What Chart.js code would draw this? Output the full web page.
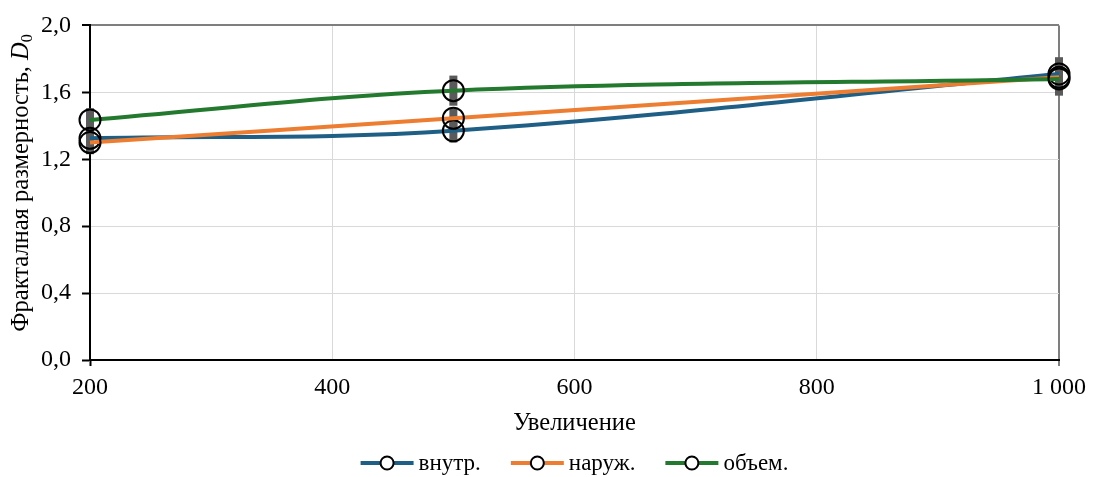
<!DOCTYPE html>
<html lang="ru">
<head>
<meta charset="UTF-8">
<title>Фракталная размерность</title>
<script src="https://cdn.jsdelivr.net/npm/chart.js"></script>
<style>
  html, body { margin: 0; padding: 0; background: #fff; }
  #wrap { width: 1093px; height: 477px; }
</style>
</head>
<body>
<div id="wrap"><canvas id="chart" width="1093" height="477"></canvas></div>
<script>
  // values
  const magnification = [200, 500, 1000];
  const seriesNames = ['внутр.', 'наруж.', 'объем.'];
  const innerD0 = [1.325, 1.37, 1.71];
  const outerD0 = [1.30, 1.445, 1.69];
  const volumeD0 = [1.435, 1.61, 1.68];
  const innerErr = [0.08, 0.07, 0.10];
  const outerErr = [0.07, 0.06, 0.09];
  const volumeErr = [0.07, 0.09, 0.10];
  const xTickValues = [200, 400, 600, 800, 1000];
  const xTickLabels = ['200', '400', '600', '800', '1 000'];
  const yTickLabels = ['0,0', '0,4', '0,8', '1,2', '1,6', '2,0'];

  const FONT = '"Liberation Serif", "Times New Roman", serif';
  const TICK_SIZE = 24;
  const TITLE_SIZE = 24.5;
  const LEGEND_SIZE = 23;

  function series(label, ys, errs, color, order) {
    return {
      label: label,
      data: magnification.map((x, i) => ({ x: x, y: ys[i] })),
      errors: errs,
      borderColor: color,
      borderWidth: 4,
      tension: 0.35,
      fill: false,
      clip: false,
      order: order,
      pointRadius: 10.5,
      pointBorderColor: '#000',
      pointBorderWidth: 2,
      pointBackgroundColor: 'rgba(0,0,0,0)'
    };
  }

  // grey error bars, under the lines
  const errorBars = {
    id: 'errorBars',
    beforeDatasetsDraw(chart) {
      const { ctx, scales: { x, y } } = chart;
      ctx.save();
      ctx.strokeStyle = '#5a5a5a';
      ctx.lineWidth = 8;
      chart.data.datasets.forEach(ds => {
        ds.data.forEach((p, i) => {
          const e = ds.errors[i];
          const px = x.getPixelForValue(p.x);
          ctx.beginPath();
          ctx.moveTo(px, y.getPixelForValue(p.y + e));
          ctx.lineTo(px, y.getPixelForValue(p.y - e));
          ctx.stroke();
        });
      });
      ctx.restore();
    }
  };

  // legend with line + circle marker like excel
  const lineLegend = {
    id: 'lineLegend',
    afterDraw(chart) {
      const { ctx, chartArea } = chart;
      const iconW = 53, gap = 5, spacing = 30, y = 463;
      ctx.save();
      ctx.font = LEGEND_SIZE + 'px ' + FONT;
      const items = chart.data.datasets.map(ds => ({ ds: ds, w: ctx.measureText(ds.label).width }));
      const total = items.reduce((s, it) => s + iconW + gap + it.w, 0) + spacing * (items.length - 1);
      let x = (chartArea.left + chartArea.right) / 2 - total / 2;
      items.forEach(it => {
        ctx.strokeStyle = it.ds.borderColor;
        ctx.lineWidth = 4;
        ctx.beginPath();
        ctx.moveTo(x, y);
        ctx.lineTo(x + iconW, y);
        ctx.stroke();
        ctx.beginPath();
        ctx.arc(x + iconW / 2, y, 6.5, 0, Math.PI * 2);
        ctx.fillStyle = '#fff';
        ctx.fill();
        ctx.strokeStyle = '#000';
        ctx.lineWidth = 2;
        ctx.stroke();
        ctx.fillStyle = '#000';
        ctx.textBaseline = 'middle';
        ctx.textAlign = 'left';
        ctx.fillText(it.ds.label, x + iconW + gap, y + 1);
        x += iconW + gap + it.w + spacing;
      });
      ctx.restore();
    }
  };

  // y title with italic D and subscript 0
  const yTitle = {
    id: 'yTitle',
    afterDraw(chart) {
      const { ctx } = chart;
      const main = 'Фракталная размерность, ';
      const subSize = 16;
      ctx.save();
      ctx.font = TITLE_SIZE + 'px ' + FONT;
      const w1 = ctx.measureText(main).width;
      ctx.font = 'italic ' + TITLE_SIZE + 'px ' + FONT;
      const w2 = ctx.measureText('D').width;
      ctx.font = subSize + 'px ' + FONT;
      const w3 = ctx.measureText('0').width;
      const total = w1 + w2 + w3;
      ctx.translate(28, 183);
      ctx.rotate(-Math.PI / 2);
      ctx.fillStyle = '#000';
      ctx.textBaseline = 'alphabetic';
      ctx.textAlign = 'left';
      let x = -total / 2;
      ctx.font = TITLE_SIZE + 'px ' + FONT;
      ctx.fillText(main, x, 0);
      x += w1;
      ctx.font = 'italic ' + TITLE_SIZE + 'px ' + FONT;
      ctx.fillText('D', x, 0);
      x += w2;
      ctx.font = subSize + 'px ' + FONT;
      ctx.fillText('0', x, 4);
      ctx.restore();
    }
  };

  new Chart(document.getElementById('chart'), {
    type: 'line',
    data: {
      datasets: [
        series(seriesNames[0], innerD0, innerErr, '#1f5f86', 3),
        series(seriesNames[1], outerD0, outerErr, '#ed7d31', 2),
        series(seriesNames[2], volumeD0, volumeErr, '#237a2e', 1)
      ]
    },
    options: {
      responsive: false,
      animation: false,
      layout: { padding: { left: 0, right: 32, top: 23, bottom: 0 } },
      plugins: {
        legend: { display: false },
        tooltip: { enabled: false }
      },
      scales: {
        x: {
          type: 'linear',
          min: 200,
          max: 1000,
          afterBuildTicks: s => { s.ticks = xTickValues.map(v => ({ value: v })); },
          afterFit: s => { s.height = 117; },
          ticks: {
            callback: (v, i) => xTickLabels[i],
            color: '#000',
            font: { family: FONT, size: TICK_SIZE },
            padding: 7,
            maxRotation: 0,
            autoSkip: false
          },
          grid: {
            color: c => (c.tick && c.tick.value === 1000 ? '#7f7f7f' : '#d9d9d9'),
            lineWidth: c => (c.tick && c.tick.value === 1000 ? 2 : 1),
            tickColor: c => (c.tick && c.tick.value === 200 ? '#000' : c.tick && c.tick.value === 1000 ? '#7f7f7f' : 'rgba(0,0,0,0)'),
            tickLength: 6,
            tickWidth: 2
          },
          border: { color: '#000', width: 2 },
          title: {
            display: true,
            text: 'Увеличение',
            color: '#000',
            font: { family: FONT, size: TITLE_SIZE },
            padding: { top: 0, bottom: 39 }
          }
        },
        y: {
          min: 0,
          max: 2,
          afterFit: s => { s.width = 90; },
          ticks: {
            stepSize: 0.4,
            callback: (v, i) => yTickLabels[i],
            color: '#000',
            font: { family: FONT, size: TICK_SIZE },
            padding: 11
          },
          grid: {
            color: c => (c.tick && c.tick.value === 2 ? '#7f7f7f' : '#d9d9d9'),
            lineWidth: c => (c.tick && c.tick.value === 2 ? 2 : 1),
            tickColor: '#000',
            tickLength: 8,
            tickWidth: 2
          },
          border: { color: '#000', width: 2 }
        }
      }
    },
    plugins: [errorBars, lineLegend, yTitle]
  });
</script>
</body>
</html>
